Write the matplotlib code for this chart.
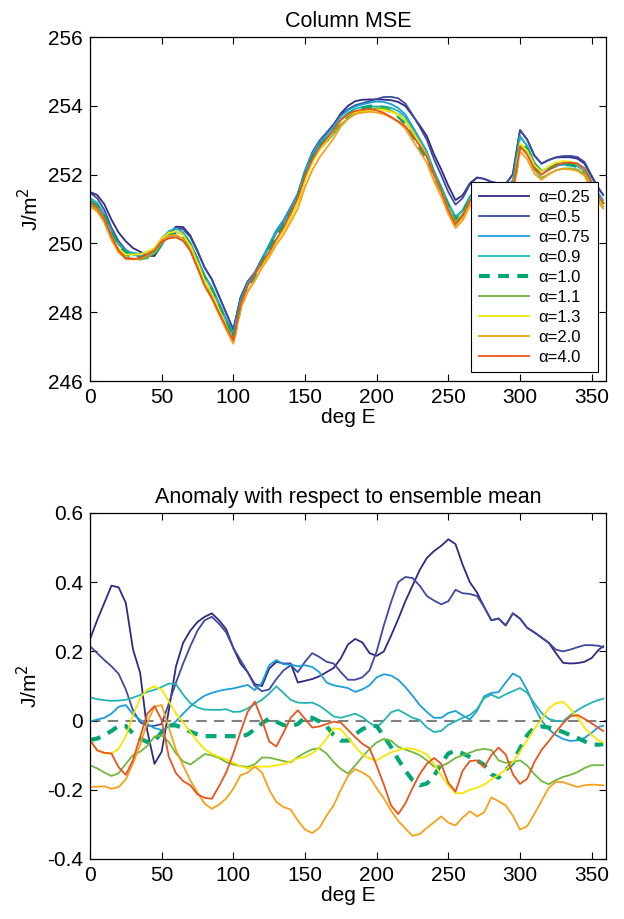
import numpy as np
import matplotlib
matplotlib.use("Agg")
import matplotlib.pyplot as plt

plt.rcParams['font.family'] = ['Liberation Sans', 'DejaVu Sans']

lon = list(range(0, 360, 5)) + [358]

# ensemble mean column MSE (J/m^2)
mean_mse = [251.26, 251.12, 250.80, 250.30, 249.93, 249.72, 249.66, 249.62, 249.67, 249.76,
            250.05, 250.25, 250.33, 250.25, 249.97, 249.50, 249.00, 248.65, 248.18, 247.72,
            247.28, 248.25, 248.75, 249.05, 249.45, 249.80, 250.20, 250.50, 250.88, 251.30,
            251.95, 252.45, 252.80, 253.05, 253.30, 253.60, 253.78, 253.90, 253.95, 253.99,
            254.00, 253.98, 253.92, 253.82, 253.65, 253.33, 253.00, 252.65, 252.10, 251.65,
            251.15, 250.75, 250.95, 251.35, 251.55, 251.55, 251.50, 251.45, 251.45, 251.70,
            253.00, 252.75, 252.30, 252.08, 252.20, 252.30, 252.34, 252.34, 252.30, 252.15,
            251.75, 251.38, 251.20]

anom_025 = [0.235, 0.29, 0.34, 0.39, 0.385, 0.34, 0.206, 0.138, -0.03, -0.125,
            -0.09, 0.03, 0.157, 0.225, 0.26, 0.285, 0.30, 0.31, 0.29, 0.264,
            0.21, 0.165, 0.14, 0.105, 0.10, 0.15, 0.17, 0.165, 0.165, 0.11,
            0.115, 0.12, 0.128, 0.14, 0.152, 0.18, 0.22, 0.236, 0.226, 0.195,
            0.187, 0.20, 0.245, 0.293, 0.345, 0.39, 0.435, 0.47, 0.49, 0.505,
            0.524, 0.51, 0.45, 0.40, 0.37, 0.328, 0.29, 0.295, 0.275, 0.31,
            0.295, 0.268, 0.255, 0.24, 0.225, 0.195, 0.167, 0.165, 0.166, 0.17,
            0.181, 0.205, 0.215]
anom_05 = [0.215, 0.195, 0.175, 0.157, 0.135, 0.09, 0.03, -0.005, -0.015, -0.015,
           -0.01, 0.05, 0.11, 0.165, 0.215, 0.26, 0.29, 0.30, 0.28, 0.255,
           0.21, 0.175, 0.14, 0.10, 0.085, 0.09, 0.12, 0.145, 0.16, 0.14,
           0.17, 0.195, 0.184, 0.17, 0.165, 0.14, 0.118, 0.118, 0.125, 0.145,
           0.20, 0.275, 0.342, 0.40, 0.415, 0.412, 0.39, 0.36, 0.347, 0.336,
           0.345, 0.378, 0.368, 0.366, 0.36, 0.328, 0.29, 0.295, 0.275, 0.31,
           0.295, 0.268, 0.255, 0.24, 0.225, 0.205, 0.20, 0.205, 0.212, 0.218,
           0.218, 0.216, 0.212]
anom_075 = [-0.003, 0.003, 0.008, 0.02, 0.04, 0.045, 0.018, 0.002, -0.01, -0.022,
            -0.027, -0.018, -0.002, 0.02, 0.041, 0.058, 0.072, 0.08, 0.086, 0.09,
            0.093, 0.098, 0.103, 0.088, 0.11, 0.16, 0.175, 0.163, 0.162, 0.157,
            0.16, 0.155, 0.14, 0.11, 0.102, 0.098, 0.094, 0.083, 0.09, 0.102,
            0.125, 0.134, 0.13, 0.118, 0.097, 0.072, 0.045, 0.025, 0.008, 0.008,
            0.022, 0.028, 0.015, 0.003, 0.028, 0.07, 0.08, 0.082, 0.11, 0.136,
            0.125, 0.088, 0.04, 0.0, -0.025, -0.042, -0.053, -0.059, -0.057, -0.05,
            -0.035, -0.018, -0.015]
anom_09 = [0.067, 0.062, 0.059, 0.057, 0.058, 0.06, 0.066, 0.074, 0.083, 0.089,
           0.097, 0.107, 0.105, 0.075, 0.05, 0.038, 0.032, 0.031, 0.031, 0.033,
           0.025, 0.026, 0.035, 0.048, 0.06, 0.078, 0.099, 0.08, 0.06, 0.052,
           0.051, 0.052, 0.043, 0.028, 0.012, 0.008, 0.014, 0.02, 0.01, -0.006,
           -0.02, 0.0, 0.024, 0.031, 0.02, 0.008, 0.002, -0.02, -0.033, -0.03,
           -0.012, -0.002, 0.008, 0.016, 0.033, 0.065, 0.075, 0.065, 0.076, 0.085,
           0.094, 0.08, 0.05, 0.022, 0.005, -0.001, -0.002, 0.015, 0.03, 0.042,
           0.052, 0.06, 0.063]
anom_10 = [-0.056, -0.052, -0.042, -0.03, -0.015, -0.016, -0.037, -0.052, -0.062, -0.06,
           -0.033, -0.014, -0.014, -0.022, -0.032, -0.04, -0.045, -0.045, -0.045, -0.045,
           -0.045, -0.047, -0.04, -0.025, -0.008, 0.006, -0.003, -0.013, -0.016, -0.01,
           0.01, 0.008, -0.002, -0.016, -0.042, -0.058, -0.058, -0.04, -0.025, -0.015,
           -0.016, -0.045, -0.076, -0.112, -0.145, -0.172, -0.187, -0.182, -0.16, -0.125,
           -0.095, -0.087, -0.095, -0.105, -0.115, -0.128, -0.155, -0.165, -0.143, -0.122,
           -0.08, -0.042, -0.02, -0.017, -0.02, -0.026, -0.033, -0.042, -0.05, -0.06,
           -0.068, -0.07, -0.068]
anom_11 = [-0.129, -0.138, -0.15, -0.16, -0.152, -0.125, -0.10, -0.09, -0.073, -0.046,
           -0.043, -0.062, -0.095, -0.118, -0.127, -0.112, -0.097, -0.10, -0.108, -0.12,
           -0.127, -0.131, -0.134, -0.126, -0.107, -0.107, -0.112, -0.117, -0.121, -0.105,
           -0.093, -0.083, -0.08, -0.095, -0.12, -0.14, -0.153, -0.13, -0.105, -0.082,
           -0.063, -0.053, -0.058, -0.076, -0.084, -0.091, -0.10, -0.115, -0.133, -0.132,
           -0.122, -0.108, -0.10, -0.093, -0.085, -0.082, -0.085, -0.115, -0.122, -0.119,
           -0.115, -0.13, -0.155, -0.175, -0.184, -0.172, -0.163, -0.157, -0.149, -0.137,
           -0.129, -0.129, -0.129]
anom_13 = [-0.056, -0.085, -0.095, -0.095, -0.082, -0.045, 0.015, 0.065, 0.09, 0.099,
           0.09, 0.055, 0.02, -0.005, -0.033, -0.06, -0.083, -0.096, -0.105, -0.112,
           -0.122, -0.132, -0.138, -0.133, -0.133, -0.133, -0.129, -0.126, -0.118, -0.109,
           -0.105, -0.095, -0.078, -0.052, -0.022, -0.025, -0.05, -0.075, -0.098, -0.11,
           -0.115, -0.103, -0.092, -0.085, -0.08, -0.081, -0.088, -0.098, -0.125, -0.158,
           -0.187, -0.21, -0.21, -0.20, -0.194, -0.185, -0.17, -0.157, -0.142, -0.12,
           -0.09, -0.057, -0.024, 0.002, 0.035, 0.05, 0.054, 0.035, 0.01, -0.02,
           -0.042, -0.058, -0.063]
anom_20 = [-0.192, -0.191, -0.19, -0.197, -0.192, -0.17, -0.124, -0.07, -0.005, 0.04,
           0.045, -0.02, -0.085, -0.13, -0.173, -0.208, -0.24, -0.255, -0.243, -0.225,
           -0.197, -0.158, -0.15, -0.133, -0.15, -0.20, -0.235, -0.25, -0.257, -0.289,
           -0.315, -0.325, -0.31, -0.275, -0.245, -0.20, -0.16, -0.14, -0.15, -0.163,
           -0.195, -0.225, -0.26, -0.29, -0.312, -0.333, -0.328, -0.31, -0.294, -0.277,
           -0.295, -0.303, -0.28, -0.262, -0.277, -0.265, -0.222, -0.233, -0.245, -0.275,
           -0.315, -0.305, -0.27, -0.232, -0.195, -0.177, -0.178, -0.185, -0.192, -0.187,
           -0.185, -0.186, -0.187]
anom_40 = [-0.056, -0.086, -0.093, -0.095, -0.135, -0.157, -0.114, -0.047, 0.02, 0.042,
           0.002, -0.105, -0.152, -0.175, -0.187, -0.213, -0.223, -0.226, -0.19, -0.15,
           -0.095, -0.033, 0.025, 0.055, 0.002, -0.06, -0.075, -0.035, 0.008, 0.03,
           0.005, -0.02, -0.017, -0.01, -0.003, -0.006, -0.027, -0.048, -0.067, -0.08,
           -0.13, -0.185, -0.245, -0.27, -0.24, -0.195, -0.155, -0.125, -0.108, -0.125,
           -0.18, -0.205, -0.145, -0.117, -0.115, -0.135, -0.10, -0.078, -0.098, -0.155,
           -0.183, -0.168, -0.12, -0.085, -0.06, -0.033, -0.008, 0.012, 0.016, 0.005,
           -0.008, -0.022, -0.03]

labels = ['α=0.25', 'α=0.5', 'α=0.75', 'α=0.9', 'α=1.0', 'α=1.1', 'α=1.3', 'α=2.0', 'α=4.0']
anoms = [anom_025, anom_05, anom_075, anom_09, anom_10, anom_11, anom_13, anom_20, anom_40]
colors = ['#2f2a84', '#3e4a9e', '#1a9fdc', '#22b4b4', '#00a774', '#72b83c', '#f8e600', '#f7a11a', '#e9541d']

fig = plt.figure(figsize=(6.24, 9.19), dpi=100)
ax1 = fig.add_axes([0.1442, 0.5854, 0.827, 0.3743])
ax2 = fig.add_axes([0.1442, 0.0653, 0.827, 0.3765])

x = np.array(lon)
m = np.array(mean_mse)
for lab, a, c in zip(labels, anoms, colors):
    a = np.array(a)
    if lab == 'α=1.0':
        kw = dict(lw=3.0, ls=(0, (2.6, 2.0)))
    else:
        kw = dict(lw=1.3)
    ax1.plot(x, m + a, color=c, label=lab, **kw)
    ax2.plot(x, a, color=c, **kw)

ax2.axhline(0, color='#808080', lw=1.5, ls=(0, (5, 3.5)), zorder=0.5)

for ax in (ax1, ax2):
    ax.set_xlim(0, 360)
    ax.set_xticks(range(0, 351, 50))
    ax.tick_params(direction='in', top=True, right=True, length=5, width=0.8,
                   labelsize=15, pad=5)
    for s in ax.spines.values():
        s.set_linewidth(0.9)
    ax.set_xlabel('deg E', fontsize=15, labelpad=1)
    ax.set_ylabel('J/m$^2$', fontsize=15, labelpad=4)

ax1.set_ylim(246, 256)
ax1.set_yticks(range(246, 257, 2))
ax1.set_title('Column MSE', fontsize=15.5, pad=7)

ax2.set_ylim(-0.4, 0.6)
yt = [-0.4, -0.2, 0, 0.2, 0.4, 0.6]
ax2.set_yticks(yt)
ax2.set_yticklabels(['-0.4', '-0.2', '0', '0.2', '0.4', '0.6'])
ax2.set_title('Anomaly with respect to ensemble mean', fontsize=15.5, pad=7)

leg = ax1.legend(loc='lower right', bbox_to_anchor=(0.984, 0.026), fontsize=12,
                 frameon=True, fancybox=False, edgecolor='black', framealpha=1.0,
                 handlelength=3.0, borderpad=0.45, labelspacing=0.3,
                 handletextpad=0.6, borderaxespad=0)
leg.get_frame().set_linewidth(0.8)

fig.savefig('out.png', dpi=100)
